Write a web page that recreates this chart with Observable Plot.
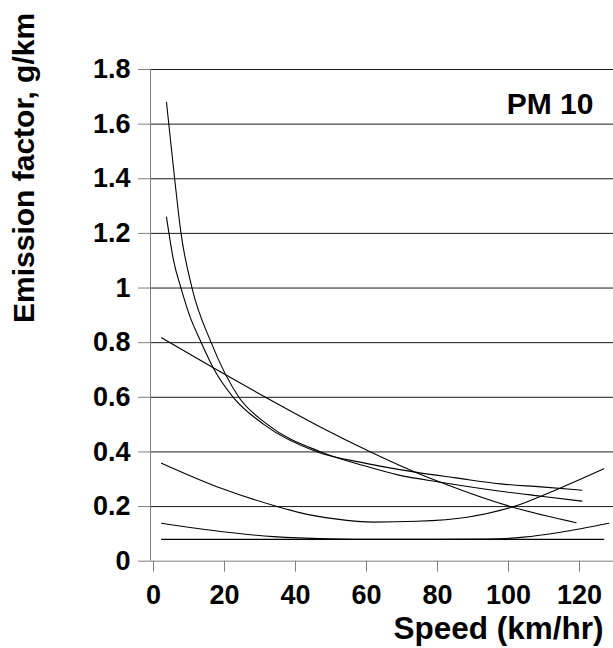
<!DOCTYPE html>
<html><head><meta charset="utf-8">
<script src="https://cdn.jsdelivr.net/npm/d3@7"></script>
<script src="https://cdn.jsdelivr.net/npm/@observablehq/plot@0.6"></script>
<style>body{margin:0;background:#fff} svg{display:block}</style>
</head><body><div id="chart"></div>
<script>
// Axis ticks
const xTicks = [0, 20, 40, 60, 80, 100, 120];
const yTicks = [0, 0.2, 0.4, 0.6, 0.8, 1.0, 1.2, 1.4, 1.6, 1.8];
const yTickLabels = ["0", "0.2", "0.4", "0.6", "0.8", "1", "1.2", "1.4", "1.6", "1.8"];

// Curve A: gently declining, nearly straight
const speedA = [3.1, 17.8, 32.4, 47, 62, 74.6, 81.7, 101.4, 119.9];
const efA    = [0.818, 0.707, 0.6, 0.497, 0.4, 0.326, 0.289, 0.2, 0.141];
// Curve B: steep, starting at 1.68
const speedB = [4.5, 6.8, 8.6, 11.7, 17.1, 24.9, 33, 48, 60, 70, 81.7, 98.6, 110, 121.5];
const efB    = [1.68, 1.4, 1.2, 1.0, 0.8, 0.6, 0.5, 0.4, 0.35, 0.315, 0.289, 0.256, 0.238, 0.22];
// Curve C: steep, starting at 1.26
const speedC = [4.5, 5.2, 6.5, 8.6, 11, 14.3, 18, 23.3, 32, 47, 60, 74.6, 86, 98.6, 110, 121.5];
const efC    = [1.26, 1.2, 1.1, 1.0, 0.9, 0.8, 0.7, 0.6, 0.5, 0.4, 0.36, 0.326, 0.305, 0.283, 0.272, 0.26];
// Curve D: U-shaped
const speedD = [3.1, 19.7, 34.7, 42.3, 52, 62.9, 75, 89.2, 102.3, 115.5, 127.7];
const efD    = [0.359, 0.268, 0.204, 0.177, 0.155, 0.143, 0.146, 0.161, 0.2, 0.268, 0.338];
// Curve E: shallow U near the bottom
const speedE = [3.1, 19.7, 34.7, 50, 65, 80, 95, 105, 115.5, 129.1];
const efE    = [0.139, 0.109, 0.09, 0.082, 0.08, 0.08, 0.081, 0.088, 0.106, 0.139];
// Curve F: flat
const speedF = [3.1, 127.7];
const efF    = [0.08, 0.08];

const series = [
  ["A", speedA, efA], ["B", speedB, efB], ["C", speedC, efC],
  ["D", speedD, efD], ["E", speedE, efE], ["F", speedF, efF]
];
const data = series.flatMap(([name, xs, ys]) => xs.map((x, i) => ({series: name, speed: x, ef: ys[i]})));

const chart = Plot.plot({
  width: 613,
  height: 648,
  marginLeft: 150,
  marginRight: 0,
  marginTop: 69,
  marginBottom: 87.3,
  style: {fontFamily: "'Liberation Sans', Arial, sans-serif", fontWeight: "bold", background: "#fff", color: "#000"},
  x: {domain: [0, 130.42]},
  y: {domain: [0, 1.8]},
  marks: [
    Plot.ruleY(yTicks.filter(d => d > 0), {stroke: "#1a1a1a", strokeWidth: 1}),
    Plot.ruleY([0], {stroke: "#808080"}),
    Plot.ruleX([0], {stroke: "#808080"}),
    Plot.axisY({ticks: yTicks, tickFormat: d => yTickLabels[yTicks.indexOf(d)], tickSize: 12, tickPadding: 8,
                fontSize: 27, fontWeight: "bold", stroke: "#808080", fill: "#000", label: null}),
    Plot.axisX({ticks: xTicks, tickFormat: d => String(d), tickSize: 11, tickPadding: 13, dx: 3,
                fontSize: 27, fontWeight: "bold", stroke: "#808080", fill: "#000", label: null}),
    Plot.line(data, {x: "speed", y: "ef", z: "series", stroke: "#000", strokeWidth: 1.1, curve: "monotone-x"}),
    Plot.text(["PM 10"], {text: d => d, frameAnchor: "top-right", textAnchor: "end", lineAnchor: "top",
                          dx: -20, dy: 23, fontSize: 30, fontWeight: "bold", fill: "#000"}),
    Plot.text(["Emission factor, g/km"], {text: d => d, frameAnchor: "left", rotate: -90, textAnchor: "middle",
                          lineAnchor: "top", dx: -138, dy: -147.4, fontSize: 30, fontWeight: "bold", fill: "#000"}),
    Plot.text(["Speed (km/hr)"], {text: d => d, frameAnchor: "bottom-right", textAnchor: "end", lineAnchor: "bottom",
                          dx: -10, dy: 78, fontSize: 31.5, fontWeight: "bold", fill: "#000"})
  ]
});
document.getElementById("chart").append(chart);
</script>
</body></html>
